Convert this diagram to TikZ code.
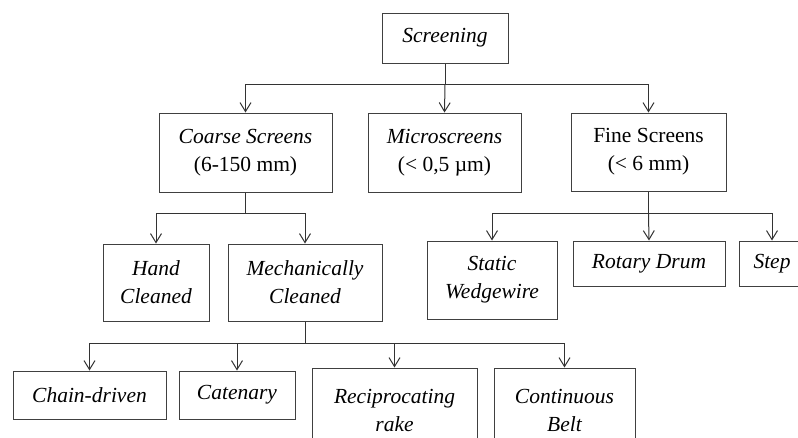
\documentclass[tikz,border=0pt]{standalone}
\usepackage{fontspec}
\setmainfont{Liberation Serif}
\usetikzlibrary{arrows.meta}
\begin{document}
\begin{tikzpicture}[x=1pt,y=-1pt,
  box/.style={draw=black!75,line width=1pt,inner sep=0pt,align=center,
    font=\fontsize{21.5}{28}\selectfont\itshape},
  wire/.style={draw=black!80,line width=1pt},
  arr/.style={-{Straight Barb[length=9pt,width=11pt]}}]
\useasboundingbox (0,0) rectangle (798,437);
\node[box,minimum width=126pt,minimum height=50pt] (screening) at (445,38) {Screening};
\node[box,minimum width=173pt,minimum height=79pt] (coarse) at (245.5,152.5) {Coarse Screens\\\upshape(6-150 mm)};
\node[box,minimum width=153pt,minimum height=79pt] (micro) at (444.5,152.5) {Microscreens\\\upshape(< 0,5 µm)};
\node[box,minimum width=155pt,minimum height=78pt] (fine) at (648.5,152) {\upshape Fine Screens\\\upshape(< 6 mm)};
\node[box,minimum width=106pt,minimum height=77pt] (hand) at (156,282.5) {Hand\\Cleaned};
\node[box,minimum width=154pt,minimum height=77pt] (mech) at (305,282.5) {Mechanically\\Cleaned};
\node[box,minimum width=130pt,minimum height=78pt] (static) at (492,280) {Static\\Wedgewire};
\node[box,minimum width=152pt,minimum height=45pt] (rotary) at (649,263.5) {Rotary Drum};
\node[box,minimum width=66pt,minimum height=45pt] (step) at (772,263.5) {Step};
\node[box,minimum width=153pt,minimum height=48pt] (chain) at (89.5,395) {Chain-driven};
\node[box,minimum width=116pt,minimum height=48pt] (catenary) at (237,395) {Catenary};
\node[box,minimum width=165pt,minimum height=84pt] (recip) at (394.5,410) {Reciprocating\\rake};
\node[box,minimum width=141pt,minimum height=84pt] (belt) at (564.5,410) {Continuous\\Belt};
\coordinate (b1) at ([yshift=-21pt]screening.south);
\coordinate (b2) at ([yshift=-21pt]coarse.south);
\coordinate (b3) at ([yshift=-22pt]fine.south);
\coordinate (b4) at ([yshift=-22pt]mech.south);
\draw[wire] (screening.south) -- (b1);
\draw[wire,arr] (b1) -| (coarse.north);
\draw[wire,arr] (b1) -- (micro.north);
\draw[wire,arr] (b1) -| (fine.north);
\draw[wire] (coarse.south) -- (b2);
\draw[wire,arr] (b2) -| (hand.north);
\draw[wire,arr] (b2) -| (mech.north);
\draw[wire] (fine.south) -- (b3);
\draw[wire,arr] (b3) -| (static.north);
\draw[wire,arr] (b3) -- (rotary.north);
\draw[wire,arr] (b3) -| (step.north);
\draw[wire] (mech.south) -- (b4);
\draw[wire,arr] (b4) -| (chain.north);
\draw[wire,arr] (b4) -| (catenary.north);
\draw[wire,arr] (b4) -| (recip.north);
\draw[wire,arr] (b4) -| (belt.north);
\end{tikzpicture}
\end{document}
